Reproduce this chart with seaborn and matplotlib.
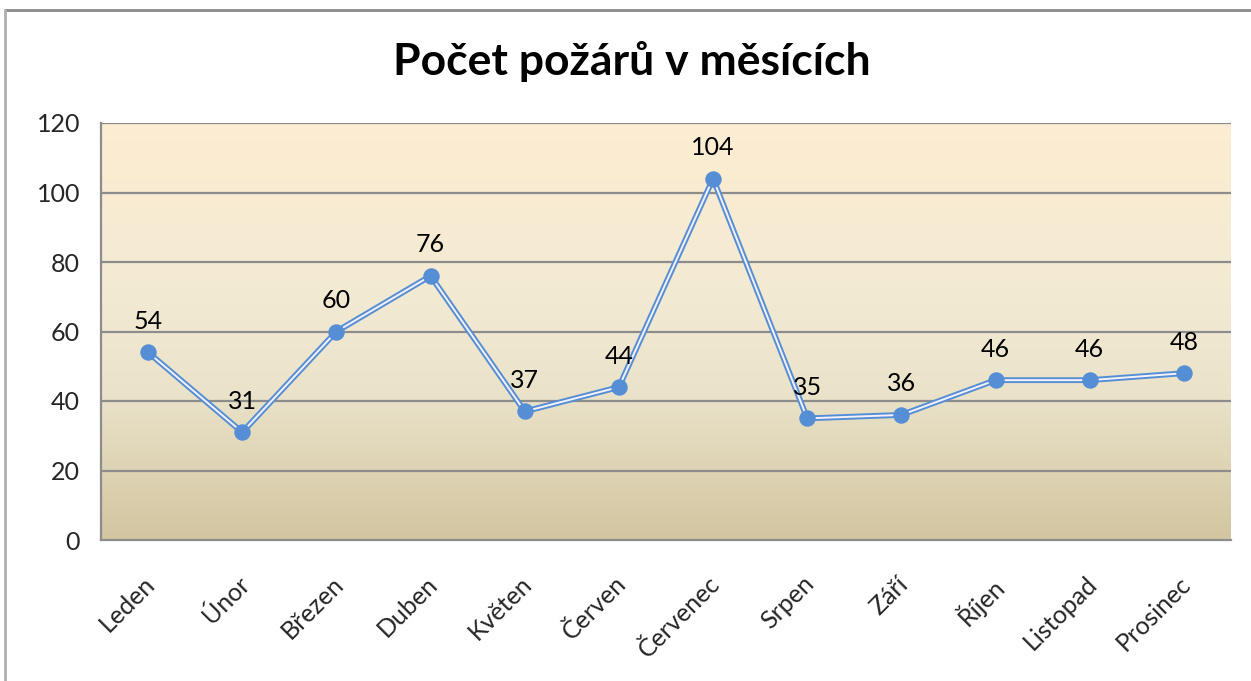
import numpy as np
import pandas as pd
import matplotlib
matplotlib.use("Agg")
import matplotlib.pyplot as plt
import matplotlib.transforms as mtransforms
from matplotlib.colors import LinearSegmentedColormap
from matplotlib.lines import Line2D
import seaborn as sns

months = ["Leden", "Únor", "Březen", "Duben", "Květen", "Červen",
          "Červenec", "Srpen", "Září", "Říjen", "Listopad", "Prosinec"]
fires = [54, 31, 60, 76, 37, 44, 104, 35, 36, 46, 46, 48]
y_ticks = [0, 20, 40, 60, 80, 100, 120]
title = "Počet požárů v měsících"

sns.set_theme(style="white")
plt.rcParams['font.family'] = ['Lato', 'DejaVu Sans']

W, H = 1251, 681
fig = plt.figure(figsize=(W / 100, H / 100), dpi=100)
fig.patch.set_facecolor("white")
ax = fig.add_axes([101 / W, 1 - 540 / H, (1231 - 101) / W, (540 - 123) / H])

# gradient background for plot area
cmap = LinearSegmentedColormap.from_list(
    "bg", [(0.0, "#D3C5A0"), (0.35, "#EAE3CA"), (0.6, "#F3EAD3"), (1.0, "#FDEDD1")])
grad = np.linspace(0, 1, 256).reshape(-1, 1)
ax.imshow(grad, cmap=cmap, origin="lower", extent=[0, 1, 0, 1], aspect="auto",
          transform=ax.transAxes, zorder=0)

df = pd.DataFrame({"month": months, "fires": fires})
blue = "#558ED5"
sns.lineplot(data=df, x="month", y="fires", sort=False, ax=ax, color=blue,
             linewidth=4.2, zorder=3)
sns.lineplot(data=df, x="month", y="fires", sort=False, ax=ax, color="#F4F1FA",
             linewidth=1.4, zorder=4)
sns.scatterplot(data=df, x="month", y="fires", ax=ax, color=blue, s=140,
                edgecolor=blue, linewidth=0, zorder=5)

for i, v in enumerate(fires):
    ax.annotate(str(v), (i, v), xytext=(0, 14), textcoords="offset points",
                ha="center", va="bottom", fontsize=18, color="black", zorder=6)

ax.set_xlim(-0.5, len(months) - 0.5)
ax.set_ylim(0, 120)
ax.set_yticks(y_ticks)
ax.set_yticklabels([str(t) for t in y_ticks], fontsize=18)
ax.set_xticks(range(len(months)))
ax.set_xticklabels(months, rotation=45, ha="right", rotation_mode="anchor", fontsize=18)
ax.set_xticks(np.arange(-0.5, len(months), 1.0), minor=True)
ax.tick_params(axis="x", which="major", length=0, pad=23)
ax.tick_params(axis="x", which="minor", length=7, width=1.5, color="#8C8C8C")
ax.tick_params(axis="y", length=8, width=1.5, color="#8C8C8C", pad=7)
shift = mtransforms.ScaledTranslation(-5 / 100, 0, fig.dpi_scale_trans)
for lbl in ax.get_xticklabels():
    lbl.set_transform(lbl.get_transform() + shift)
ax.set_xlabel("")
ax.set_ylabel("")
ax.grid(False)
for yv in y_ticks[1:]:
    ax.axhline(yv, color="#8C8C8C", linewidth=1.6, zorder=1)
for s in ["top", "right"]:
    ax.spines[s].set_visible(False)
for s in ["left", "bottom"]:
    ax.spines[s].set_color("#8C8C8C")
    ax.spines[s].set_linewidth(1.6)
    ax.spines[s].set_zorder(2)

fig.text(632 / W, 1 - 62 / H, title, ha="center", va="center",
         fontsize=32, fontweight="bold", color="black")

# outer chart frame
fig.add_artist(Line2D([5 / W, 1], [1 - 10 / H, 1 - 10 / H], transform=fig.transFigure,
                      color="#8A8A8A", linewidth=2))
fig.add_artist(Line2D([5 / W, 5 / W], [0, 1 - 10 / H], transform=fig.transFigure,
                      color="#B0B0B0", linewidth=2))

fig.savefig("out.png", dpi=100)
